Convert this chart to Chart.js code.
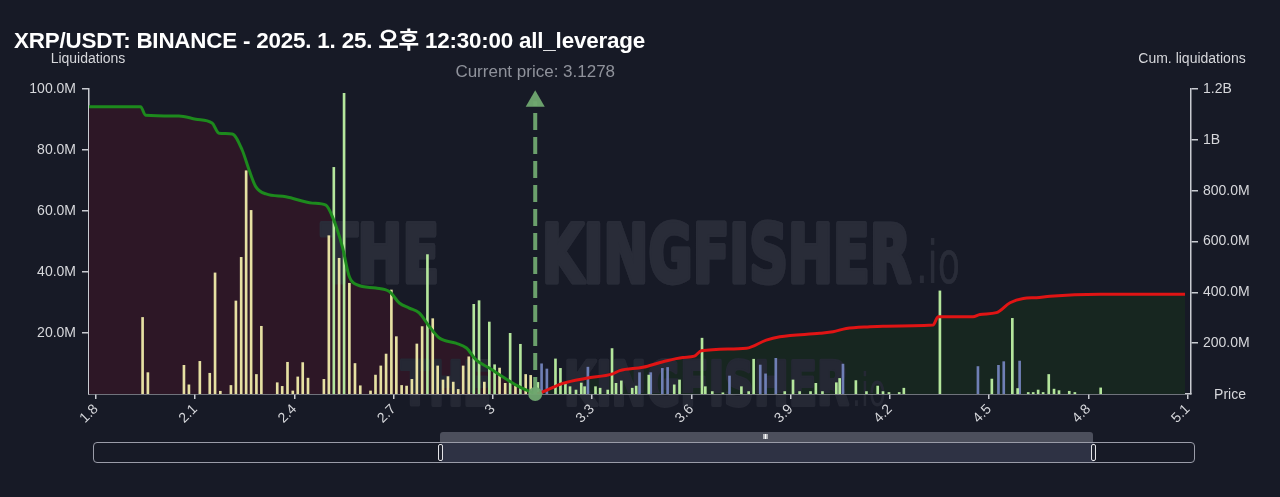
<!DOCTYPE html>
<html>
<head>
<meta charset="utf-8">
<script src="https://cdn.jsdelivr.net/npm/chart.js@4.4.1/dist/chart.umd.min.js"></script>
<style>
  body { margin: 0; background: #171a26; width: 1280px; height: 497px; overflow: hidden; position: relative;
         font-family: "Liberation Sans", Arial, "Noto Sans CJK KR", sans-serif; }
  #box { position: absolute; left: 0; top: 0; width: 1280px; height: 497px; }
  .title { position: absolute; left: 14px; top: 22px; color: #fff; font-weight: bold; font-size: 22.4px;
           letter-spacing: -0.2px; white-space: nowrap; }
  .slider { position: absolute; left: 93px; top: 442px; width: 1100px; height: 19px;
            border: 1px solid #9a9ca8; border-radius: 4px; }
  .slider .sel { position: absolute; left: 347px; top: 0; width: 653px; height: 19px; background: #2e3244; }
  .grip { position: absolute; left: 440px; top: 432px; width: 653px; height: 10px; background: #4c4f5c;
          border-radius: 3px 3px 0 0; }
  .grip span { position: absolute; left: 323px; top: 1px; color: #fff; font-size: 7px; font-weight: bold; letter-spacing: -0.5px; }
  .handle { position: absolute; top: 444px; width: 3px; height: 15px; border: 1px solid #e4e4e8; border-radius: 2px; background: #20232f; }
</style>
</head>
<body>
<div id="box"><canvas id="chart" width="1280" height="497"></canvas></div>
<div class="title">XRP/USDT: BINANCE - 2025. 1. 25. 오후 12:30:00 all_leverage</div>
<div class="grip"><span>III</span></div>
<div class="slider"><div class="sel"></div></div>
<div class="handle" style="left:438px"></div>
<div class="handle" style="left:1091px"></div>
<script>
// price axis ticks and current price
const priceTicks = [1.8, 2.1, 2.4, 2.7, 3, 3.3, 3.6, 3.9, 4.2, 4.5, 4.8, 5.1];
const liqTicks = [20, 40, 60, 80, 100]; // millions
const cumTicks = [200, 400, 600, 800, 1000, 1200]; // millions
const currentPrice = 3.1278;

// liquidation bars (millions), by colour
const yellowPrice = [1.941, 1.957, 2.066, 2.081, 2.114, 2.144, 2.160, 2.176, 2.208, 2.223, 2.239, 2.254, 2.269, 2.285, 2.300,
  2.348, 2.363, 2.379, 2.395, 2.410, 2.425, 2.441, 2.489, 2.504, 2.535, 2.566, 2.583, 2.599, 2.630, 2.645, 2.661, 2.677,
  2.693, 2.708, 2.724, 2.739, 2.755, 2.770, 2.786, 2.818, 2.833, 2.849, 2.864, 2.880, 2.895, 2.910, 2.927, 2.974, 3.020,
  3.037, 3.068, 3.099, 3.114];
const yellowLiq = [25.1, 7.0, 9.4, 3.0, 10.7, 6.8, 39.7, 0.9, 2.8, 30.5, 44.8, 73.2, 60.2, 6.4, 22.2,
  3.7, 2.5, 10.4, 1.0, 5.6, 10.3, 5.2, 4.8, 51.9, 44.5, 36.3, 10.0, 2.7, 1.0, 6.2, 9.2, 13.1,
  34.1, 18.8, 2.8, 2.6, 4.8, 16.4, 22.1, 24.7, 9.2, 4.6, 5.7, 3.9, 1.5, 9.2, 12.2, 3.9, 8.5,
  3.5, 2.6, 6.4, 6.1];

const greenPrice = [2.519, 2.550, 2.802, 2.942, 2.958, 2.989, 3.005, 3.052, 3.083,
  3.136, 3.189, 3.204, 3.219, 3.233, 3.251, 3.267, 3.277, 3.310, 3.324, 3.347, 3.360, 3.372, 3.388, 3.421, 3.433,
  3.471, 3.548, 3.564, 3.632, 3.642, 3.663, 3.695, 3.751, 3.773, 3.788, 3.882, 3.907, 3.927, 3.960, 3.976, 3.996,
  4.038, 4.048, 4.097, 4.129, 4.163, 4.179, 4.197, 4.228, 4.242, 4.351, 4.508, 4.570, 4.586, 4.618, 4.633, 4.648,
  4.663, 4.680, 4.696, 4.711, 4.742, 4.759, 4.837];
const greenLiq = [74.3, 98.6, 45.7, 29.4, 30.6, 23.6, 9.6, 19.9, 16.3,
  3.8, 11.5, 8.4, 3.5, 2.4, 1.3, 3.6, 2.4, 2.4, 1.9, 1.3, 14.9, 3.5, 4.3, 1.9, 2.6,
  6.2, 3.0, 4.6, 18.3, 2.4, 0.8, 0.4, 2.4, 0.8, 11.4, 0.8, 4.6, 0.8, 0.8, 3.5, 0.8,
  3.7, 5.1, 4.4, 0.8, 2.6, 0.8, 0.5, 0.5, 1.9, 33.8, 4.9, 24.8, 1.8, 0.5, 0.5, 1.3,
  0.5, 6.4, 1.6, 1.1, 0.9, 0.5, 2.0];

const bluePrice = [3.147, 3.163, 3.287, 3.443, 3.477, 3.512, 3.528, 3.715, 3.808, 3.824, 3.855, 4.058, 4.466, 4.528, 4.544, 4.592];
const blueLiq = [9.9, 8.2, 8.8, 7.0, 7.0, 8.4, 8.7, 5.9, 9.5, 6.6, 11.7, 9.8, 9.0, 9.4, 10.6, 10.8];

// cumulative liquidations (millions)
const longCumPrice = [1.779, 1.935, 1.950, 2.051, 2.102, 2.151, 2.172, 2.212, 2.242, 2.263, 2.283, 2.314, 2.374, 2.454,
  2.495, 2.515, 2.545, 2.566, 2.590, 2.646, 2.687, 2.717, 2.747, 2.777, 2.808, 2.838, 2.888, 2.920, 2.949, 2.989,
  3.029, 3.070, 3.1278];
const longCum = [1130, 1130, 1097, 1094, 1081, 1066, 1026, 1023, 960, 881, 816, 787, 776, 751,
  743, 697, 579, 461, 429, 417, 403, 358, 338, 319, 265, 220, 200, 181, 134, 102,
  68, 35, 0];
const shortCumPrice = [3.1278, 3.140, 3.211, 3.282, 3.362, 3.383, 3.453, 3.514, 3.574, 3.609, 3.630, 3.766, 3.826, 3.867,
  3.988, 4.028, 4.068, 4.139, 4.179, 4.330, 4.346, 4.451, 4.472, 4.522, 4.563, 4.603, 4.643, 4.684, 4.835, 5.092];
const shortCum = [0, 3, 42, 62, 79, 92, 105, 127, 144, 149, 170, 180, 212, 225,
  239, 245, 258, 265, 267, 271, 304, 304, 313, 320, 359, 376, 379, 385, 392, 392];

const FONT = '"Liberation Sans", Arial, sans-serif';
const AXIS = '#c9cbd1';
const TEXT = '#d6d7db';

const pts = (xs, ys) => xs.map((x, i) => ({ x: x, y: ys[i] }));

// watermark text squeezed into a given width, thickened with a stroke
function stretchText(ctx, text, x, base, width, size, weight, thick) {
	ctx.font = `${weight} ${size}px "DejaVu Sans", ${FONT}`;
	const w = ctx.measureText(text).width;
	ctx.save();
	ctx.translate(x, base);
	ctx.scale(width / w, 1);
	ctx.lineWidth = thick;
	ctx.lineJoin = "round";
	if (thick > 0) ctx.strokeText(text, 0, 0);
	ctx.fillText(text, 0, 0);
	ctx.restore();
}

function drawWatermark(ctx) {
	ctx.save();
	ctx.textAlign = "left";
	ctx.textBaseline = "alphabetic";
	ctx.fillStyle = ctx.strokeStyle = "#292c38";
	stretchText(ctx, "THE", 321, 282, 118, 80, "bold", 5);
	stretchText(ctx, "KINGFISHER", 542, 282, 369, 80, "bold", 5);
	stretchText(ctx, ".io", 916, 283, 44, 58, "normal", 0);
	ctx.fillStyle = ctx.strokeStyle = "#252834";
	stretchText(ctx, "THE", 401, 405, 90, 61, "bold", 4);
	stretchText(ctx, "KINGFISHER", 564, 405, 285, 61, "bold", 4);
	stretchText(ctx, ".io", 852, 406, 34, 46, "normal", 0);
	ctx.restore();
}

const overlay = {
	id: "overlay",
	beforeDraw(chart) {
		// part outside the plot sits under the axis labels
		drawWatermark(chart.ctx);
	},
	beforeDatasetsDraw(chart) {
		// part inside the plot sits over the filled areas
		const ctx = chart.ctx;
		const a = chart.chartArea;
		ctx.save();
		ctx.beginPath();
		ctx.rect(a.left + 1, a.top, a.right - a.left - 2, a.bottom - a.top - 1);
		ctx.clip();
		drawWatermark(ctx);
		ctx.restore();
	},
	afterDraw(chart) {
		const ctx = chart.ctx;
		ctx.save();
		ctx.font = `14px ${FONT}`;
		ctx.fillStyle = TEXT;
		ctx.textAlign = "center";
		ctx.textBaseline = "middle";
		ctx.fillText("Liquidations", 88, 59);
		ctx.fillText("Cum. liquidations", 1192, 59);
		ctx.fillText("Price", 1230, 395);
		ctx.font = `17px ${FONT}`;
		ctx.fillStyle = "#8f929b";
		ctx.fillText("Current price: " + currentPrice, chart.scales.x.getPixelForValue(currentPrice), 72);
		ctx.restore();
	},
};

const tickGrid = { drawOnChartArea: false, drawTicks: true, tickLength: 7, color: AXIS, lineWidth: 1.5 };

new Chart(document.getElementById("chart"), {
	type: "bar",
	data: {
		datasets: [
			{
				type: "line",
				label: "Current price",
				data: [{ x: currentPrice, y: 0 }, { x: currentPrice, y: 96 }],
				yAxisID: "y",
				borderColor: "rgba(112,168,112,0.95)",
				borderWidth: 4,
				borderDash: [17, 7],
				pointStyle: ["circle", "triangle"],
				pointRadius: [7, 11],
				pointBorderWidth: 0,
				pointBackgroundColor: "rgba(112,168,112,0.95)",
				clip: false,
				order: 0,
			},
			{
				type: "line",
				label: "Cum. long",
				data: pts(longCumPrice, longCum),
				yAxisID: "y2",
				borderColor: "#1d8a1d",
				borderWidth: 3,
				pointRadius: 0,
				cubicInterpolationMode: "monotone",
				fill: "origin",
				backgroundColor: "#2d1726",
				order: 1,
			},
			{
				type: "line",
				label: "Cum. short",
				data: pts(shortCumPrice, shortCum),
				yAxisID: "y2",
				borderColor: "#e01414",
				borderWidth: 3,
				pointRadius: 0,
				cubicInterpolationMode: "monotone",
				fill: "origin",
				backgroundColor: "#172620",
				order: 1,
			},
			{
				label: "Liquidations",
				data: pts(yellowPrice, yellowLiq),
				yAxisID: "y",
				backgroundColor: "#e6e0a2",
				barThickness: 2,
				grouped: false,
				order: 2,
			},
			{
				label: "Liquidations (near)",
				data: pts(greenPrice, greenLiq),
				yAxisID: "y",
				backgroundColor: "#b4e69c",
				barThickness: 2,
				grouped: false,
				order: 2,
			},
			{
				label: "Liquidations (other)",
				data: pts(bluePrice, blueLiq),
				yAxisID: "y",
				backgroundColor: "#6f7fb5",
				barThickness: 2,
				grouped: false,
				order: 2,
			},
		],
	},
	options: {
		responsive: false,
		animation: false,
		events: [],
		layout: { padding: { top: 89, left: 0, right: 0, bottom: 0 } },
		plugins: {
			legend: { display: false },
			tooltip: { enabled: false },
			filler: { drawTime: "beforeDatasetsDraw" },
		},
		scales: {
			x: {
				type: "linear",
				min: 1.779,
				max: 5.11,
				offset: false,
				grid: { ...tickGrid, tickLength: 5, offset: false },
				border: { display: true, color: AXIS, width: 1.5 },
				afterBuildTicks: (scale) => {
					scale.ticks = priceTicks.map((v) => ({ value: v }));
				},
				afterFit: (scale) => {
					scale.height = 103;
				},
				ticks: {
					autoSkip: false,
					minRotation: 45,
					maxRotation: 45,
					color: TEXT,
					font: { family: FONT, size: 14 },
					padding: 2,
					callback: (v) => String(+v.toFixed(1)),
				},
			},
			y: {
				position: "left",
				min: 0,
				max: 100,
				grid: tickGrid,
				border: { display: true, color: AXIS, width: 1.5 },
				afterBuildTicks: (scale) => {
					scale.ticks = liqTicks.map((v) => ({ value: v }));
				},
				afterFit: (scale) => {
					scale.width = 89;
				},
				ticks: {
					color: TEXT,
					font: { family: FONT, size: 14 },
					padding: 6,
					callback: (v) => v.toFixed(1) + "M",
				},
			},
			y2: {
				position: "right",
				min: 0,
				max: 1200,
				grid: tickGrid,
				border: { display: true, color: AXIS, width: 1.5 },
				afterBuildTicks: (scale) => {
					scale.ticks = cumTicks.map((v) => ({ value: v }));
				},
				afterFit: (scale) => {
					scale.width = 89;
				},
				ticks: {
					color: TEXT,
					font: { family: FONT, size: 14 },
					padding: 5,
					callback: (v) => (v >= 1000 ? v / 1000 + "B" : v.toFixed(1) + "M"),
				},
			},
		},
	},
	plugins: [overlay],
});
</script>
</body>
</html>
